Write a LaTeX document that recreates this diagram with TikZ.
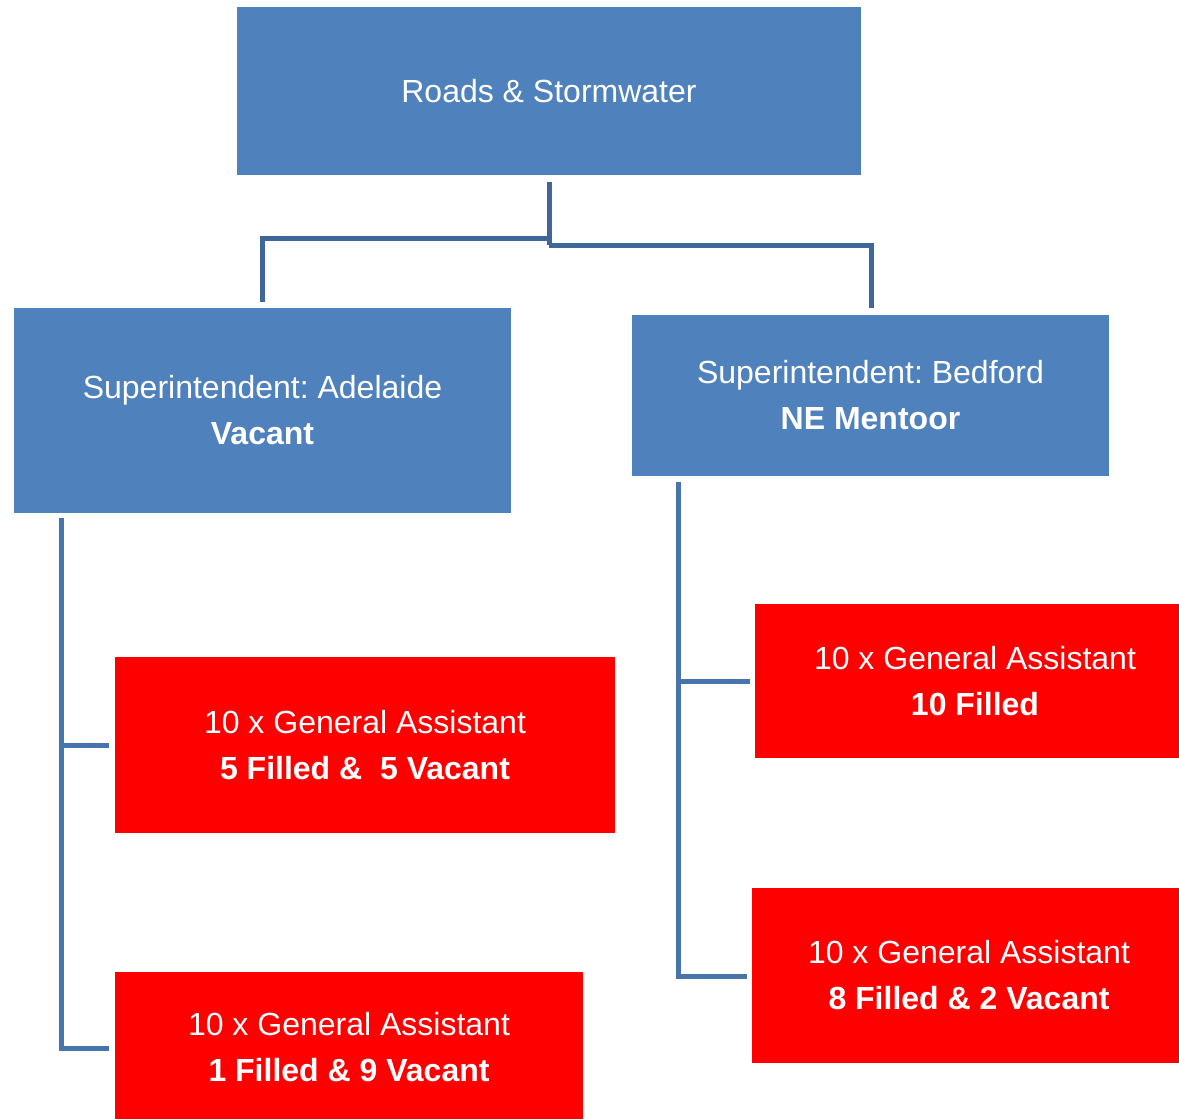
\documentclass[tikz,border=0pt]{standalone}
\usepackage{fontspec}
\setmainfont{Liberation Sans}
\usetikzlibrary{calc}
\frenchspacing
\definecolor{boxblue}{HTML}{4F81BD}
\definecolor{boxred}{HTML}{FF0000}
\definecolor{linkdark}{HTML}{3E6698}
\definecolor{linkblue}{HTML}{4874AC}
\tikzset{
  unit/.style={draw=none, text=white, align=center,
    font=\fontsize{32}{46}\selectfont\frenchspacing, inner sep=0pt},
  manager/.style={unit, fill=boxblue},
  crew/.style={unit, fill=boxred},
  link/.style={line width=5pt, line cap=butt, line join=miter},
}
\begin{document}
\begin{tikzpicture}[x=1pt, y=-1pt]
  \useasboundingbox[fill=white] (0,0) rectangle (1179,1119);

  % organisation boxes
  \node[manager, minimum width=624, minimum height=168] (top) at (549,91)
    {Roads \& Stormwater};
  \node[manager, minimum width=497, minimum height=205] (adel) at (262.5,410.5)
    {Superintendent: Adelaide\\\textbf{Vacant}};
  \node[manager, minimum width=477, minimum height=161] (bed) at (870.5,395.5)
    {Superintendent: Bedford\\\textbf{NE Mentoor}};
  \node[crew, minimum width=500, minimum height=176] (a1) at (365,745)
    {10 x General Assistant\\\textbf{5 Filled \&\ \ 5 Vacant}};
  \node[crew, minimum width=468, minimum height=150] (a2) at (349,1047)
    {10 x General Assistant\\\textbf{1 Filled \& 9 Vacant}};
  \node[crew, minimum width=440, minimum height=154] (b1) at (975,681)
    {10 x General Assistant\\\textbf{10 Filled}};
  \node[crew, minimum width=434, minimum height=175] (b2) at (969,975.5)
    {10 x General Assistant\\\textbf{8 Filled \& 2 Vacant}};

  % connector bends
  \coordinate (topfoot) at (549,182);
  \coordinate (topmidL) at (549,238.5);
  \coordinate (topmidR) at (549,245);
  \coordinate (adelhead) at (262,301.5);
  \coordinate (bedhead) at (871,308);
  \coordinate (adelfoot) at (61,518);
  \coordinate (bedfoot) at (678,482);

  % top level links
  \draw[link, draw=linkdark] (topfoot) -- (topmidR);
  \draw[link, draw=linkdark] (topmidL) -| (adelhead);
  \draw[link, draw=linkdark] (topmidR) -| (bedhead);

  % Adelaide crews
  \draw[link, draw=linkblue] (adelfoot) |- ($(a2.west)+(-6,1)$);
  \draw[link, draw=linkblue] (61,745) -- ($(a1.west)+(-6,0)$);

  % Bedford crews
  \draw[link, draw=linkblue] (bedfoot) |- ($(b2.west)+(-5,0.5)$);
  \draw[link, draw=linkblue] (678,681) -- ($(b1.west)+(-5,0)$);
\end{tikzpicture}
\end{document}
